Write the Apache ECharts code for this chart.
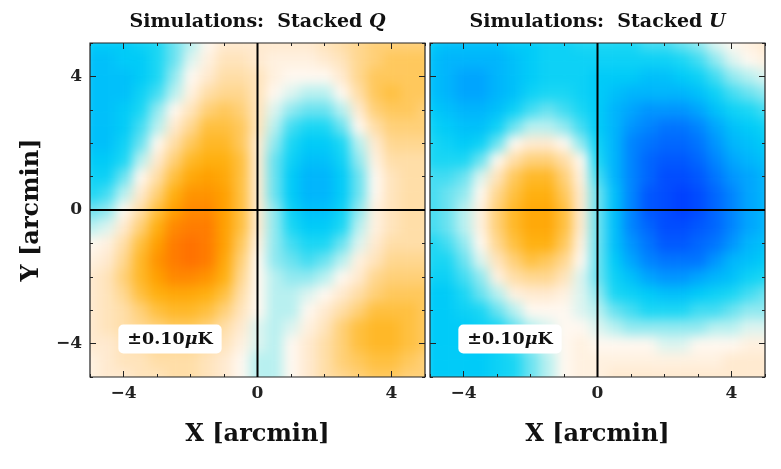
<!DOCTYPE html>
<html>
<head>
<meta charset="utf-8">
<script src="https://cdn.jsdelivr.net/npm/echarts@6/dist/echarts.min.js"></script>
<style>
  html, body { margin: 0; padding: 0; background: #fff; }
  #wrap { position: relative; width: 781px; height: 469px; }
  .clip { position: absolute; overflow: hidden; }
  .blur { position: absolute; filter: blur(6px); }
  #main { position: absolute; left: 0; top: 0; width: 781px; height: 469px; }
</style>
</head>
<body>
<div id="wrap">
  <div class="clip" id="clipQ"><div class="blur" id="mapQ"></div></div>
  <div class="clip" id="clipU"><div class="blur" id="mapU"></div></div>
  <div id="main"></div>
</div>
<script>
// sample positions in arcmin (same for X and Y)
const samplePos = ['-5', '-4.5', '-4', '-3.5', '-3', '-2.5', '-2', '-1.5', '-1', '-0.5', '0',
  '0.5', '1', '1.5', '2', '2.5', '3', '3.5', '4', '4.5', '5'];
const tickValues = [-4, 0, 4];

// stacked maps in units of 0.01 uK, rows from Y=+5 (top) to Y=-5 (bottom), columns X=-5..5
const qRows = [
  [-4, -4, -4, -3.5, -3, -2, -1, 0, 1, 1, 1, 1, 1, 1, 1.5, 2, 2.5, 3, 3, 3, 3],
  [-4.5, -4.5, -4, -4, -3, -2, -0.5, 0.5, 1.5, 1.5, 1, 0.5, 0.5, 0.5, 1, 1.5, 2.5, 3, 3.5, 3.5, 3.5],
  [-4.5, -4.5, -4.5, -4, -3, -1.5, 0, 1, 2, 2, 1.5, 0.5, 0, 0, 0, 1, 2.5, 3.5, 3.5, 3.5, 3.5],
  [-4.5, -4.5, -4.5, -3.5, -2.5, -1, 0.5, 2, 2.5, 2.5, 1.5, 0, -0.5, -1, -1, 0, 2, 3.5, 4, 3.5, 3.5],
  [-4.5, -4.5, -4, -3, -1.5, 0, 1.5, 3, 3.5, 3, 1.5, -0.5, -1.5, -2, -2, -1, 1, 3, 3.5, 3.5, 3],
  [-4.5, -4.5, -4, -2.5, -1, 1, 2.5, 4, 4, 3.5, 1.5, -1, -2.5, -3, -3, -2, 0, 2, 3, 3, 3],
  [-4.5, -4.5, -3.5, -2, 0, 2, 3.5, 4.5, 4.5, 3.5, 1, -1.5, -3, -4, -4, -3, -1, 1, 2.5, 2.5, 2.5],
  [-4, -4, -3, -1, 1, 3, 4.5, 5, 5, 4, 1, -2, -3.5, -4.5, -4.5, -3.5, -1.5, 0.5, 2, 2, 2],
  [-3.5, -3.5, -2, 0, 2, 4, 5.5, 6, 5.5, 4, 1, -2, -4, -5, -5, -4, -2, 0, 1.5, 2, 2],
  [-3, -2.5, -1, 1, 3, 5, 6.5, 6.5, 6, 4, 1, -2, -4, -5, -5, -4, -2, 0, 1.5, 2, 2],
  [-2, -1.5, 0, 2, 4, 6, 7, 7, 6, 4, 1, -1.5, -3.5, -4.5, -4.5, -3.5, -1.5, 0.5, 1.5, 2, 2],
  [-1, -0.5, 1, 3, 5, 7, 7.5, 7.5, 6, 4, 1, -1.5, -3, -4, -4, -3, -1, 0.5, 1.5, 2, 2],
  [0, 0.5, 2, 4, 6, 7.5, 8, 7.5, 6, 3.5, 0.5, -1.5, -2.5, -3, -3, -2, -0.5, 1, 2, 2, 2],
  [0.5, 1, 2.5, 4.5, 6.5, 7.5, 8, 7.5, 5.5, 3, 0, -1.5, -2, -2.5, -2, -1, 0.5, 1.5, 2.5, 2.5, 2.5],
  [1, 1.5, 3, 4.5, 6, 7, 7, 6.5, 5, 2.5, 0, -1, -1.5, -1.5, -1, 0, 1, 2.5, 3, 3, 3],
  [1, 1.5, 2.5, 4, 5, 5.5, 5.5, 5, 4, 2, 0, -1, -1, -0.5, 0, 1, 2, 3, 3.5, 3.5, 3.5],
  [1, 1.5, 2, 3, 4, 4.5, 4.5, 4, 3, 1.5, 0, -1, -1, 0, 1, 2, 3, 4, 4, 4, 3.5],
  [1, 1.5, 2, 2.5, 3, 3.5, 3.5, 3, 2, 1, -0.5, -1, -0.5, 0.5, 1.5, 3, 4, 4.5, 4.5, 4, 3.5],
  [1, 1, 1.5, 2, 2.5, 2.5, 2.5, 2, 1.5, 0.5, -0.5, -1, 0, 1, 2, 3, 4, 4.5, 4.5, 4, 3.5],
  [0.5, 1, 1.5, 1.5, 2, 2, 2, 1.5, 1, 0, -1, -1, 0, 1, 2, 3, 3.5, 4, 4, 3.5, 3],
  [0.5, 1, 1, 1.5, 1.5, 2, 2, 1.5, 1, 0, -1, -1, 0, 1, 2, 2.5, 3, 3.5, 3.5, 3, 3]
];

const uRows = [
  [-4, -4.5, -4.5, -4.5, -4.5, -4, -4, -3.5, -3.5, -3, -3, -3, -3, -2.5, -2.5, -2, -1.5, -0.5, 0, 0.5, 1],
  [-4.5, -5, -5, -5, -5, -4.5, -4, -3.5, -3.5, -3.5, -3.5, -3.5, -3.5, -3.5, -3.5, -3, -2.5, -1.5, -0.5, 0, 0.5],
  [-4.5, -5, -5.5, -5.5, -5, -4.5, -4, -3.5, -3.5, -3.5, -4, -4, -4, -4.5, -4.5, -4, -3.5, -2.5, -1.5, -1, -0.5],
  [-4.5, -5, -5.5, -5.5, -5, -4.5, -3.5, -3, -3, -3.5, -4, -4.5, -5, -5, -5, -5, -4.5, -3.5, -2.5, -2, -1.5],
  [-4, -4.5, -5, -5, -4.5, -3.5, -2.5, -2, -2.5, -3, -4, -5, -5.5, -6, -6, -6, -5.5, -4.5, -3.5, -3, -2.5],
  [-3.5, -4, -4.5, -4.5, -3.5, -2, -1, -1, -1.5, -2.5, -4, -5, -6, -6.5, -7, -7, -6.5, -5.5, -4.5, -4, -3.5],
  [-3, -3.5, -4, -3.5, -2, 0, 1, 1, 0, -1.5, -3.5, -5, -6.5, -7, -7.5, -7.5, -7, -6, -5, -4.5, -4],
  [-3, -3, -3, -2, 0, 2, 3, 3, 2, 0, -3, -5, -6.5, -7.5, -8, -8, -7.5, -6.5, -5.5, -5, -4.5],
  [-2.5, -2.5, -2, -0.5, 1.5, 3.5, 4.5, 4.5, 3, 0.5, -2.5, -5, -6.5, -7.5, -8.5, -8.5, -8, -7, -6, -5.5, -5],
  [-2.5, -2, -1.5, 0, 2.5, 4, 5, 5, 3.5, 1, -2, -4.5, -6.5, -8, -8.5, -9, -8.5, -7.5, -6.5, -5.5, -5],
  [-2.5, -2, -1, 0.5, 3, 4.5, 5.5, 5.5, 4, 1, -2, -4.5, -6.5, -8, -8.5, -9, -8.5, -7.5, -6.5, -5.5, -5],
  [-2.5, -2, -1, 0.5, 3, 4.5, 5.5, 5.5, 4, 1, -2, -4.5, -6.5, -7.5, -8.5, -8.5, -8, -7.5, -6.5, -5.5, -5],
  [-3, -2.5, -1.5, 0, 2.5, 4, 5, 5, 3.5, 0.5, -2, -4.5, -6, -7, -8, -8, -7.5, -7, -6, -5, -4.5],
  [-3, -3, -2, -0.5, 1.5, 3, 4, 3.5, 2.5, 0, -2, -4, -5.5, -6.5, -7, -7, -7, -6, -5, -4.5, -4],
  [-3.5, -3.5, -2.5, -1.5, 0.5, 2, 2.5, 2.5, 1.5, -0.5, -2, -3.5, -4.5, -5.5, -6, -6, -5.5, -5, -4.5, -3.5, -3],
  [-4, -4, -3, -2, -1, 0.5, 1, 1, 0.5, -0.5, -1.5, -3, -3.5, -4, -4.5, -4.5, -4, -3.5, -3, -2.5, -2],
  [-4, -4, -3.5, -3, -2, -1, 0, 0, 0, -0.5, -1, -2, -2.5, -3, -3, -3, -2.5, -2.5, -2, -1.5, -1.5],
  [-4, -4, -4, -3.5, -3, -2, -1, -0.5, 0, 0, -0.5, -1, -1.5, -1.5, -1.5, -1.5, -1.5, -1, -1, -0.5, -0.5],
  [-4, -4, -4, -4, -3.5, -2.5, -1.5, -0.5, 0, 0.5, 0, 0, 0, 0, -0.5, -0.5, 0, 0, 0, 0.5, 0.5],
  [-4, -4, -4, -4, -3.5, -3, -2, -1, 0, 0.5, 0.5, 0.5, 0.5, 0.5, 0.5, 0.5, 0.5, 0.5, 1, 1, 1],
  [-4, -4, -4, -4, -3.5, -3, -2, -1, 0, 0.5, 0.5, 1, 1, 1, 1, 1, 1, 1, 1, 1, 1]
];

// colour scale from -0.10 to +0.10 uK in 0.01 steps
const colourSteps = ['#0020ff', '#0040ff', '#0058ff', '#0075ff', '#0095ff', '#00b5fc', '#00cbf8',
  '#1ad6f4', '#6ae2f0', '#b8f0f0', '#fff8f0', '#ffead0', '#ffdea8', '#ffd078', '#ffc040',
  '#ffb010', '#ffa000', '#ff8800', '#ff7000', '#ff5800', '#ff4000'];

const panels = [
  {left: 90, top: 43, width: 335, height: 334, title: 'Q', rows: qRows, clip: 'clipQ', map: 'mapQ'},
  {left: 430, top: 43, width: 335, height: 334, title: 'U', rows: uRows, clip: 'clipU', map: 'mapU'}
];

const serif = 'DejaVu Serif';
const fmt = v => (v < 0 ? '\u2212' + (-v) : String(v));

// heatmap layers (blurred to look like a continuous map, clipped to the frame)
panels.forEach(p => {
  const clip = document.getElementById(p.clip);
  Object.assign(clip.style, {left: p.left + 'px', top: p.top + 'px', width: p.width + 'px', height: p.height + 'px'});
  const mapDiv = document.getElementById(p.map);
  const padX = p.width * 0.025, padY = p.height * 0.025;
  Object.assign(mapDiv.style, {left: -padX + 'px', top: -padY + 'px',
    width: p.width + 2 * padX + 'px', height: p.height + 2 * padY + 'px'});

  const data = [];
  p.rows.forEach((row, r) => {
    row.forEach((v, c) => data.push([c, samplePos.length - 1 - r, v]));
  });

  const chart = echarts.init(mapDiv, null, {renderer: 'canvas'});
  chart.setOption({
    animation: false,
    grid: {left: 0, right: 0, top: 0, bottom: 0},
    xAxis: {type: 'category', data: samplePos, show: false},
    yAxis: {type: 'category', data: samplePos, show: false},
    visualMap: {show: false, min: -10, max: 10, inRange: {color: colourSteps}},
    series: [{type: 'heatmap', data: data, itemStyle: {borderWidth: 0}}]
  });
});

// frames, ticks, labels, zero lines
const tickLine = {color: '#222', width: 1};
function makeAxis(gridIndex, position, major, extra) {
  return Object.assign({
    type: 'value', gridIndex, position, min: -5, max: 5, interval: 1,
    axisLine: {show: false, onZero: false},
    splitLine: {show: false},
    axisTick: major
      ? {inside: true, length: 6, customValues: tickValues, lineStyle: tickLine}
      : {inside: true, length: 3, lineStyle: tickLine},
    axisLabel: {show: false}
  }, extra || {});
}

const labelStyle = {
  show: true, customValues: tickValues, formatter: fmt,
  fontFamily: serif, fontWeight: 'bold', fontSize: 17, color: '#222', margin: 8
};
const nameStyle = {fontFamily: serif, fontWeight: 'bold', fontSize: 24, color: '#111'};

const xAxes = [], yAxes = [], series = [], grids = [], graphics = [];
panels.forEach((p, gi) => {
  grids.push({left: p.left, top: p.top, width: p.width, height: p.height,
    show: true, borderColor: '#222', borderWidth: 1.2, backgroundColor: 'transparent'});

  xAxes.push(makeAxis(gi, 'bottom', false, {
    axisLabel: labelStyle, name: 'X [arcmin]', nameLocation: 'middle', nameGap: 46, nameTextStyle: nameStyle
  }));
  xAxes.push(makeAxis(gi, 'bottom', true));
  xAxes.push(makeAxis(gi, 'top', false));
  xAxes.push(makeAxis(gi, 'top', true));

  yAxes.push(makeAxis(gi, 'left', false, gi === 0 ? {
    axisLabel: labelStyle, name: 'Y [arcmin]', nameLocation: 'middle', nameGap: 46, nameTextStyle: nameStyle
  } : {}));
  yAxes.push(makeAxis(gi, 'left', true));
  yAxes.push(makeAxis(gi, 'right', false));
  yAxes.push(makeAxis(gi, 'right', true));

  const zeroStyle = {color: '#000', width: 2};
  series.push({type: 'line', xAxisIndex: gi * 4, yAxisIndex: gi * 4, symbol: 'none', silent: true,
    lineStyle: zeroStyle, data: [[-5, 0], [5, 0]]});
  series.push({type: 'line', xAxisIndex: gi * 4, yAxisIndex: gi * 4, symbol: 'none', silent: true,
    lineStyle: zeroStyle, data: [[0, -5], [0, 5]]});

  const cx = p.left + p.width / 2;
  graphics.push({
    type: 'text', x: cx, y: 22, z: 10,
    style: {
      text: '{b|Simulations:  Stacked }{i|' + p.title + '}',
      align: 'center', verticalAlign: 'middle',
      rich: {
        b: {fontFamily: serif, fontWeight: 'bold', fontSize: 19, fill: '#111'},
        i: {fontFamily: serif, fontWeight: 'bold', fontStyle: 'italic', fontSize: 19, fill: '#111'}
      }
    }
  });
  graphics.push({
    type: 'text', x: p.left + 80, y: 339, z: 10,
    style: {
      text: '{b|\u00b10.10}{i|\u03bc}{b|K}',
      align: 'center', verticalAlign: 'middle',
      backgroundColor: '#fff', borderRadius: 5, padding: [6, 9, 5, 9],
      rich: {
        b: {fontFamily: serif, fontWeight: 'bold', fontSize: 17.5, fill: '#111'},
        i: {fontFamily: serif, fontWeight: 'bold', fontStyle: 'italic', fontSize: 17.5, fill: '#111'}
      }
    }
  });
});

const main = echarts.init(document.getElementById('main'), null, {renderer: 'canvas'});
main.setOption({
  animation: false,
  backgroundColor: 'transparent',
  grid: grids,
  xAxis: xAxes,
  yAxis: yAxes,
  series: series,
  graphic: graphics
});
</script>
</body>
</html>
